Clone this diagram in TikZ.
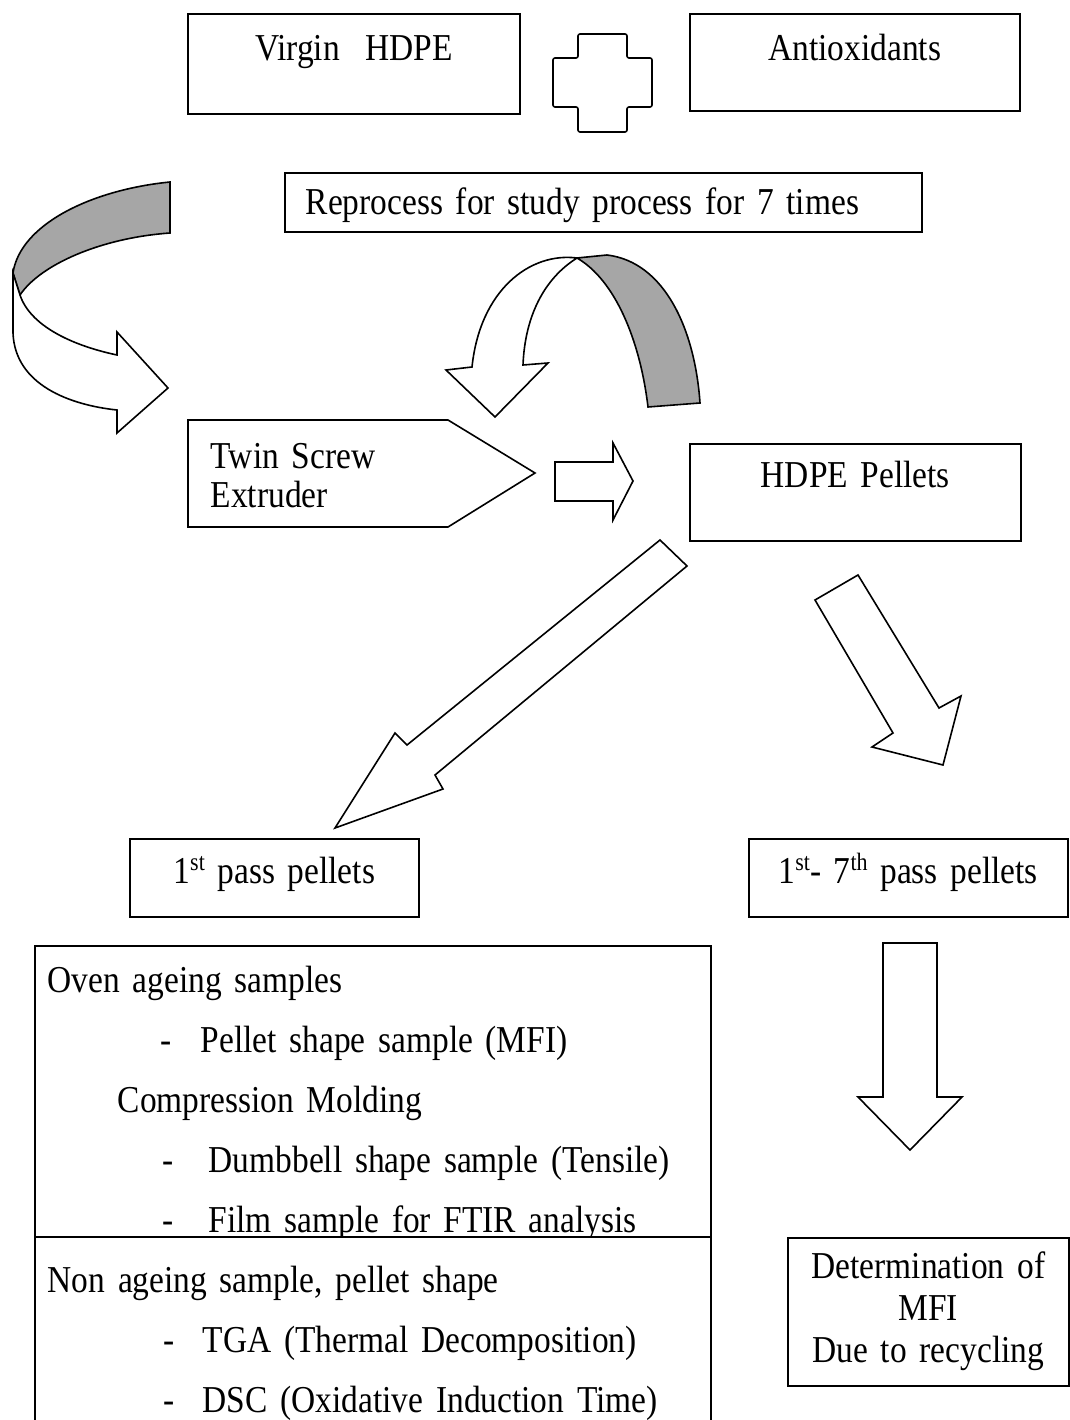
\documentclass[tikz,border=0pt]{standalone}
\usepackage{fontspec}
\setmainfont{Liberation Serif}[FakeStretch=0.88]
\usepackage{tikz}

\newcommand{\sampleitem}[3]{\hspace*{#1}\rlap{-}\hspace*{#2}#3}
\newcommand{\diagfont}[1]{\fontsize{38}{#1}\selectfont}
\newcommand{\passsup}[1]{\raisebox{13pt}{\fontsize{25}{25}\selectfont #1}}

\begin{document}
\begin{tikzpicture}[x=1pt, y=-1pt, line width=1.6pt,
  every node/.style={font=\diagfont{42}, inner sep=0pt},
  box/.style={draw, anchor=north west, align=center},
  blockarrow/.style={draw, fill=white, line join=miter},
  ribbon/.style={draw, fill=black!35, line join=miter}]

  \useasboundingbox (0,0) rectangle (1069,1420);

  \node (virgin) [box, text width=332pt, text height=47pt, text depth=53pt] at (187,13) {Virgin\ \ HDPE};
  \node (antiox) [box, text width=330pt, text height=47pt, text depth=50pt] at (689,13) {Antioxidants};
  \draw [rounded corners=2pt] (578,34) -- (627,34) -- (627,58) -- (652,58) -- (652,107) -- (627,107)
    -- (627,132) -- (578,132) -- (578,107) -- (553,107) -- (553,58) -- (578,58) -- cycle;

  \node (reprocess) [box, align=left, text width=595pt, inner xsep=21pt, text height=42pt, text depth=17pt] at (284,172) {Reprocess for study process for 7 times};

  % curved arrows
  \draw [ribbon] (170,182) .. controls (90,190) and (20,225) .. (13,273) -- (20,295)
    .. controls (40,265) and (100,238) .. (170,233) -- cycle;
  \draw [blockarrow] (13,273) -- (13,333) .. controls (15,385) and (70,405) .. (117,410) -- (117,433)
    -- (168,388) -- (117,332) -- (117,355) .. controls (70,345) and (30,325) .. (20,295) -- cycle;
  \draw [ribbon] (577,258) -- (607,255) .. controls (665,262) and (695,330) .. (700,403) -- (648,407)
    .. controls (640,340) and (615,280) .. (577,258) -- cycle;
  \draw [blockarrow] (577,258) .. controls (530,252) and (480,290) .. (472,367) -- (446,370) -- (495,417)
    -- (548,363) -- (523,365) .. controls (525,315) and (545,278) .. (577,258) -- cycle;

  \draw (188,420) -- (448,420) -- (535,473) -- (448,527) -- (188,527) -- cycle;
  \node (extruder) [anchor=base west, align=left, text width=250pt, font=\diagfont{39}] at (210,468) {Twin Screw\\Extruder};
  \node (pellets) [box, text width=331pt, text height=44pt, text depth=53pt] at (689,443) {HDPE Pellets};

  \draw [blockarrow] (555,462) -- (613,462) -- (613,443) -- (633,481) -- (613,520) -- (613,501) -- (555,501) -- cycle;
  \draw [blockarrow] (660,540) -- (407,745) -- (395,733) -- (335,828) -- (443,789) -- (435,775) -- (687,566) -- cycle;
  \draw [blockarrow] (815,600) -- (858,575) -- (939,708) -- (961,696) -- (943,765) -- (872,747) -- (893,733) -- cycle;

  \node (first) [box, text width=289pt, text height=45pt, text depth=33pt] at (129,838) {1\passsup{st} pass pellets};
  \node (allpass) [box, text width=319pt, text height=45pt, text depth=33pt] at (748,838) {1\passsup{st}- 7\passsup{th} pass pellets};

  \draw [blockarrow] (883,943) -- (937,943) -- (937,1097) -- (962,1097) -- (910,1150) -- (858,1097) -- (883,1097) -- cycle;

  \node (oven) [box, align=left, text width=650pt, inner xsep=13pt, text height=47pt, text depth=244pt,
    font=\diagfont{60}] at (34,945)
    {Oven ageing samples\\
     \sampleitem{113pt}{40pt}{Pellet shape sample (MFI)}\\
     \hspace*{70pt}Compression Molding\\
     \sampleitem{115pt}{46pt}{Dumbbell shape sample (Tensile)}\\
     \sampleitem{115pt}{46pt}{Film sample for FTIR analysis}};
  \node (nonageing) [box, fill=white, align=left, text width=650pt, inner xsep=13pt, text height=56pt, text depth=133pt,
    font=\diagfont{60}] at (34,1236)
    {Non ageing sample, pellet shape\\
     \sampleitem{116pt}{39pt}{TGA (Thermal Decomposition)}\\
     \sampleitem{116pt}{39pt}{DSC (Oxidative Induction Time)}};

  \node (mfi) [box, text width=281pt, text height=41pt, text depth=107pt] at (787,1237) {Determination of\\MFI\\Due to recycling};

\end{tikzpicture}
\end{document}
